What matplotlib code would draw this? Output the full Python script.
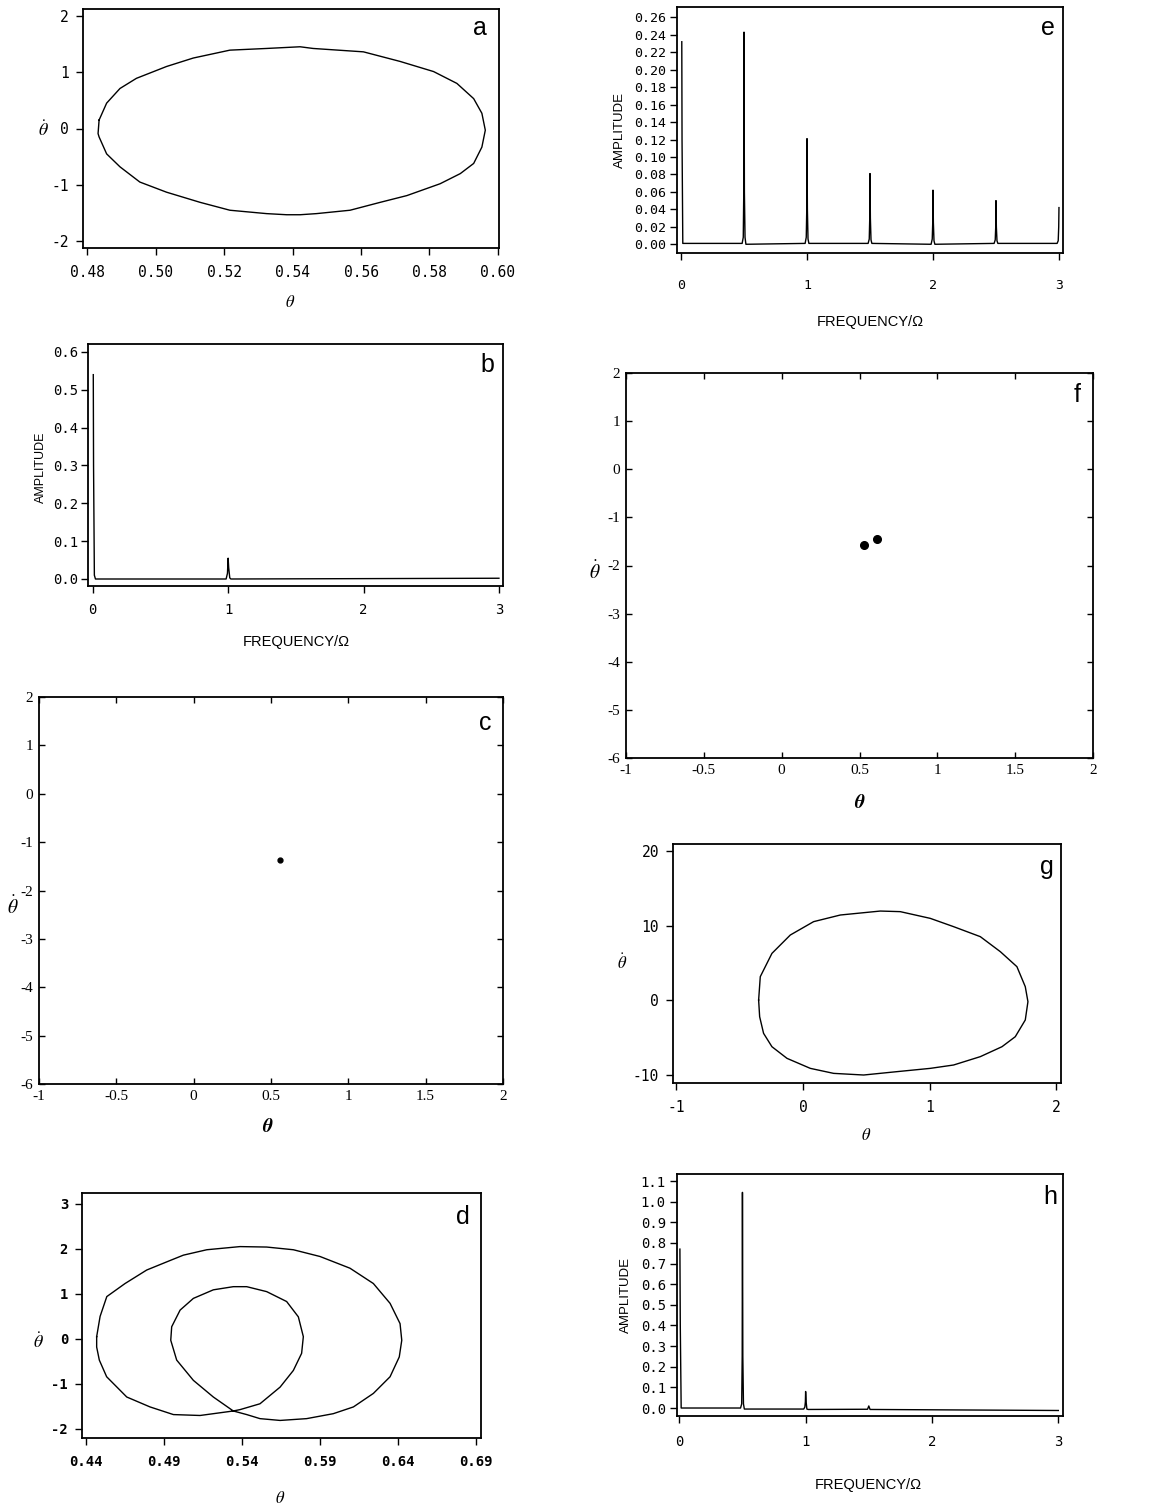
import numpy as np
import matplotlib
matplotlib.use("Agg")
import matplotlib.pyplot as plt
from matplotlib.ticker import FixedLocator, FormatStrFormatter, FuncFormatter

plt.rcParams["mathtext.fontset"] = "stix"
plt.rcParams["axes.unicode_minus"] = False

W, H = 1160, 1507
MONO = "DejaVu Sans Mono"
SANS = "Liberation Sans"
SERIF = "Liberation Serif"

# ---- data ------------------------------------------------------------------
# (a) closed orbit, theta vs theta-dot
a_theta = [0.4835, 0.4857, 0.4896, 0.4944, 0.5032, 0.5110, 0.5217, 0.5324, 0.5422, 0.5460,
           0.5607, 0.5714, 0.5812, 0.5880, 0.5929, 0.5953, 0.5963, 0.5953, 0.5929, 0.5890,
           0.5831, 0.5734, 0.5656, 0.5568, 0.5470, 0.5422, 0.5383, 0.5324, 0.5217, 0.5130,
           0.5032, 0.4954, 0.4896, 0.4857, 0.4835, 0.4832, 0.4835]
a_dot = [0.15, 0.45, 0.71, 0.89, 1.10, 1.25, 1.39, 1.42, 1.45, 1.42,
         1.36, 1.19, 1.01, 0.80, 0.53, 0.27, -0.03, -0.33, -0.62, -0.80,
         -0.98, -1.19, -1.31, -1.45, -1.51, -1.53, -1.53, -1.51, -1.45, -1.31,
         -1.13, -0.95, -0.68, -0.45, -0.15, -0.09, 0.15]

# (b) amplitude spectrum
b_freq = [0.004, 0.006, 0.012, 0.020, 0.985, 0.995, 1.000, 1.004, 1.012, 1.020, 3.000]
b_amp = [0.540, 0.300, 0.010, 0.000, 0.000, 0.015, 0.055, 0.030, 0.003, 0.000, 0.002]

# (c) single fixed point
c_theta = [0.56]
c_dot = [-1.36]

# (d) period-2 orbit (one closed curve with a self-crossing)
d_theta = [0.4468, 0.4490, 0.4533, 0.4650, 0.4789, 0.4938, 0.5024, 0.5174, 0.5387, 0.5558, 0.5729,
           0.5900, 0.6092, 0.6242, 0.6349, 0.6413, 0.6424, 0.6408, 0.6349, 0.6242, 0.6114,
           0.5985, 0.5814, 0.5644, 0.5515, 0.5430, 0.5344, 0.5216, 0.5088, 0.4981, 0.4943,
           0.4949, 0.5003, 0.5088, 0.5216, 0.5344, 0.5430, 0.5558, 0.5686, 0.5761, 0.5793,
           0.5782, 0.5729, 0.5644, 0.5515, 0.5387, 0.5344, 0.5259, 0.5131, 0.4960, 0.4810,
           0.4661, 0.4532, 0.4485, 0.4468, 0.4468]
d_dot = [0.05, 0.50, 0.94, 1.23, 1.53, 1.74, 1.86, 1.98, 2.05, 2.04, 1.98,
         1.83, 1.57, 1.23, 0.79, 0.34, -0.03, -0.40, -0.84, -1.21, -1.51,
         -1.66, -1.77, -1.81, -1.77, -1.68, -1.60, -1.29, -0.92, -0.47, -0.03,
         0.27, 0.64, 0.90, 1.09, 1.16, 1.16, 1.05, 0.83, 0.49, 0.05,
         -0.32, -0.70, -1.07, -1.44, -1.57, -1.60, -1.64, -1.70, -1.68, -1.51,
         -1.29, -0.84, -0.47, -0.18, 0.05]

# (e) amplitude spectrum, subharmonic cascade
e_freq = [0.006, 0.008, 0.014, 0.485, 0.494, 0.498, 0.500, 0.503, 0.508, 0.515,
          0.985, 0.994, 0.998, 1.000, 1.003, 1.008, 1.015,
          1.485, 1.494, 1.498, 1.500, 1.503, 1.508, 1.515,
          1.985, 1.994, 1.998, 2.000, 2.003, 2.008, 2.015,
          2.485, 2.494, 2.498, 2.500, 2.503, 2.508, 2.515,
          2.985, 2.994, 2.998, 3.000]
e_amp = [0.232, 0.120, 0.001, 0.001, 0.008, 0.060, 0.243, 0.060, 0.008, 0.000,
         0.001, 0.008, 0.040, 0.121, 0.040, 0.006, 0.001,
         0.001, 0.006, 0.030, 0.081, 0.030, 0.005, 0.001,
         0.000, 0.006, 0.025, 0.062, 0.025, 0.004, 0.000,
         0.001, 0.005, 0.020, 0.050, 0.020, 0.004, 0.001,
         0.001, 0.004, 0.020, 0.042]

# (f) two-point orbit
f_theta = [0.53, 0.61]
f_dot = [-1.575, -1.457]

# (g) large closed orbit
g_theta = [-0.350, -0.337, -0.245, -0.100, 0.084, 0.295, 0.611, 0.768, 1.005, 1.189,
           1.400, 1.558, 1.689, 1.755, 1.776, 1.755, 1.676, 1.571, 1.400, 1.189,
           1.005, 0.742, 0.479, 0.242, 0.058, -0.126, -0.245, -0.311, -0.342, -0.350]
g_dot = [0.04, 3.17, 6.29, 8.75, 10.54, 11.43, 11.96, 11.88, 10.98, 9.87,
         8.53, 6.52, 4.51, 1.83, -0.18, -2.63, -4.87, -6.21, -7.54, -8.66,
         -9.11, -9.55, -10.00, -9.78, -9.11, -7.77, -6.21, -4.42, -2.19, 0.04]

# (h) amplitude spectrum
h_freq = [0.005, 0.008, 0.015, 0.485, 0.494, 0.498, 0.500, 0.503, 0.508, 0.515,
          0.985, 0.994, 0.998, 1.000, 1.004, 1.010, 1.020, 1.490, 1.500, 1.510, 3.000]
h_amp = [0.770, 0.400, 0.000, 0.000, 0.020, 0.250, 1.045, 0.250, 0.020, -0.005,
         -0.005, 0.005, 0.030, 0.080, 0.030, -0.005, -0.007, -0.006, 0.010, -0.007, -0.012]


# ---- helpers ---------------------------------------------------------------
def add_ax(left, top, right, bottom):
    return fig.add_axes([left / W, 1 - bottom / H, (right - left) / W, (bottom - top) / H])


def plotter_style(ax, fs=10.5, ypad=5):
    ax.tick_params(direction="out", length=5, width=1, pad=7, labelsize=fs,
                   top=False, right=False)
    ax.tick_params(axis="y", pad=ypad)
    for lab in ax.get_xticklabels() + ax.get_yticklabels():
        lab.set_fontfamily(MONO)
    for s in ax.spines.values():
        s.set_linewidth(1.3)


def serif_style(ax):
    ax.tick_params(direction="in", length=4, width=1, pad=4, labelsize=11,
                   top=True, right=True)
    for lab in ax.get_xticklabels() + ax.get_yticklabels():
        lab.set_fontfamily(SERIF)
    for s in ax.spines.values():
        s.set_linewidth(1.3)


def letter(txt, x, y):
    fig.text(x / W, 1 - y / H, txt, family=SANS, fontsize=18, ha="center", va="center")


def ftext(txt, x, y, **kw):
    fig.text(x / W, 1 - y / H, txt, ha="center", va="center", **kw)


DOT = r"$\dot{\theta}$"
BDOT = r"$\boldsymbol{\dot{\theta}}$"
BTH = r"$\boldsymbol{\theta}$"
gfmt = FuncFormatter(lambda v, p: f"{v:g}")

fig = plt.figure(figsize=(W / 100, H / 100), dpi=100)

# (a)
ax = add_ax(83, 9, 499, 248)
ax.plot(a_theta, a_dot, color="black", lw=1.0)
ax.set_xlim(0.4788, 0.6003); ax.set_ylim(-2.12, 2.12)
ax.xaxis.set_major_locator(FixedLocator([0.48, 0.50, 0.52, 0.54, 0.56, 0.58, 0.60]))
ax.xaxis.set_major_formatter(FormatStrFormatter("%.2f"))
ax.yaxis.set_major_locator(FixedLocator([-2, -1, 0, 1, 2]))
plotter_style(ax)
letter("a", 480, 28)
ftext(DOT, 43, 130, fontsize=13)
ftext(r"$\theta$", 290, 302, fontsize=12)

# (b)
ax = add_ax(88, 344, 503, 586)
ax.plot(b_freq, b_amp, color="black", lw=1.0)
ax.set_xlim(-0.035, 3.03); ax.set_ylim(-0.0185, 0.621)
ax.xaxis.set_major_locator(FixedLocator([0, 1, 2, 3]))
ax.yaxis.set_major_locator(FixedLocator(np.round(np.arange(0, 0.61, 0.1), 1)))
ax.yaxis.set_major_formatter(FormatStrFormatter("%.1f"))
plotter_style(ax, fs=10, ypad=2)
letter("b", 487, 365)
ftext("AMPLITUDE", 41, 467, family=SANS, fontsize=9, rotation=90)
ftext("FREQUENCY/Ω", 296, 642, family=SANS, fontsize=10.5)

# (c)
ax = add_ax(39, 697, 503, 1084)
ax.plot(c_theta, c_dot, "o", color="black", ms=3.5)
ax.set_xlim(-1, 2); ax.set_ylim(-6, 2)
ax.xaxis.set_major_locator(FixedLocator([-1, -0.5, 0, 0.5, 1, 1.5, 2]))
ax.xaxis.set_major_formatter(gfmt)
ax.yaxis.set_major_locator(FixedLocator(range(-6, 3)))
serif_style(ax)
letter("c", 485, 723)
ftext(BDOT, 13, 907, fontsize=14)
ftext(BTH, 268, 1127, fontsize=14)

# (d)
ax = add_ax(82, 1193, 481, 1438)
ax.plot(d_theta, d_dot, color="black", lw=1.0)
ax.set_xlim(0.4374, 0.6932); ax.set_ylim(-2.2, 3.24)
ax.xaxis.set_major_locator(FixedLocator([0.44, 0.49, 0.54, 0.59, 0.64, 0.69]))
ax.xaxis.set_major_formatter(FormatStrFormatter("%.2f"))
ax.yaxis.set_major_locator(FixedLocator([-2, -1, 0, 1, 2, 3]))
plotter_style(ax, fs=10)
for lab in ax.get_xticklabels() + ax.get_yticklabels():
    lab.set_fontweight("bold")
letter("d", 463, 1217)
ftext(DOT, 38, 1342, fontsize=13)
ftext(r"$\theta$", 280, 1498, fontsize=12)

# (e)
ax = add_ax(677, 7, 1063, 253)
ax.plot(e_freq, e_amp, color="black", lw=1.0)
ax.set_xlim(-0.032, 3.032); ax.set_ylim(-0.010, 0.2718)
ax.xaxis.set_major_locator(FixedLocator([0, 1, 2, 3]))
ax.yaxis.set_major_locator(FixedLocator(np.round(np.arange(0, 0.261, 0.02), 2)))
ax.yaxis.set_major_formatter(FormatStrFormatter("%.2f"))
plotter_style(ax, fs=9.5, ypad=3)
ax.tick_params(axis="x", pad=14)
letter("e", 1048, 28)
ftext("AMPLITUDE", 620, 130, family=SANS, fontsize=9.5, rotation=90)
ftext("FREQUENCY/Ω", 870, 322, family=SANS, fontsize=10.5)

# (f)
ax = add_ax(626, 373, 1093, 758)
ax.plot(f_theta, f_dot, "o", color="black", ms=5.5)
ax.set_xlim(-1, 2); ax.set_ylim(-6, 2)
ax.xaxis.set_major_locator(FixedLocator([-1, -0.5, 0, 0.5, 1, 1.5, 2]))
ax.xaxis.set_major_formatter(gfmt)
ax.yaxis.set_major_locator(FixedLocator(range(-6, 3)))
serif_style(ax)
letter("f", 1077, 395)
ftext(BDOT, 595, 572, fontsize=14)
ftext(BTH, 860, 802, fontsize=14)

# (g)
ax = add_ax(673, 844, 1061, 1083)
ax.plot(g_theta, g_dot, color="black", lw=1.0)
ax.set_xlim(-1.026, 2.037); ax.set_ylim(-11.07, 20.94)
ax.xaxis.set_major_locator(FixedLocator([-1, 0, 1, 2]))
ax.yaxis.set_major_locator(FixedLocator([-10, 0, 10, 20]))
plotter_style(ax)
letter("g", 1047, 867)
ftext(DOT, 622, 963, fontsize=12)
ftext(r"$\theta$", 866, 1135, fontsize=12)

# (h)
ax = add_ax(677, 1174, 1063, 1416)
ax.plot(h_freq, h_amp, color="black", lw=1.0)
ax.set_xlim(-0.018, 3.037); ax.set_ylim(-0.0387, 1.134)
ax.xaxis.set_major_locator(FixedLocator([0, 1, 2, 3]))
ax.yaxis.set_major_locator(FixedLocator(np.round(np.arange(0, 1.11, 0.1), 1)))
ax.yaxis.set_major_formatter(FormatStrFormatter("%.1f"))
plotter_style(ax, fs=10, ypad=3)
ax.tick_params(axis="x", pad=9)
letter("h", 1050, 1197)
ftext("AMPLITUDE", 626, 1295, family=SANS, fontsize=9.5, rotation=90)
ftext("FREQUENCY/Ω", 868, 1485, family=SANS, fontsize=10.5)

fig.savefig("out.png", dpi=100)
